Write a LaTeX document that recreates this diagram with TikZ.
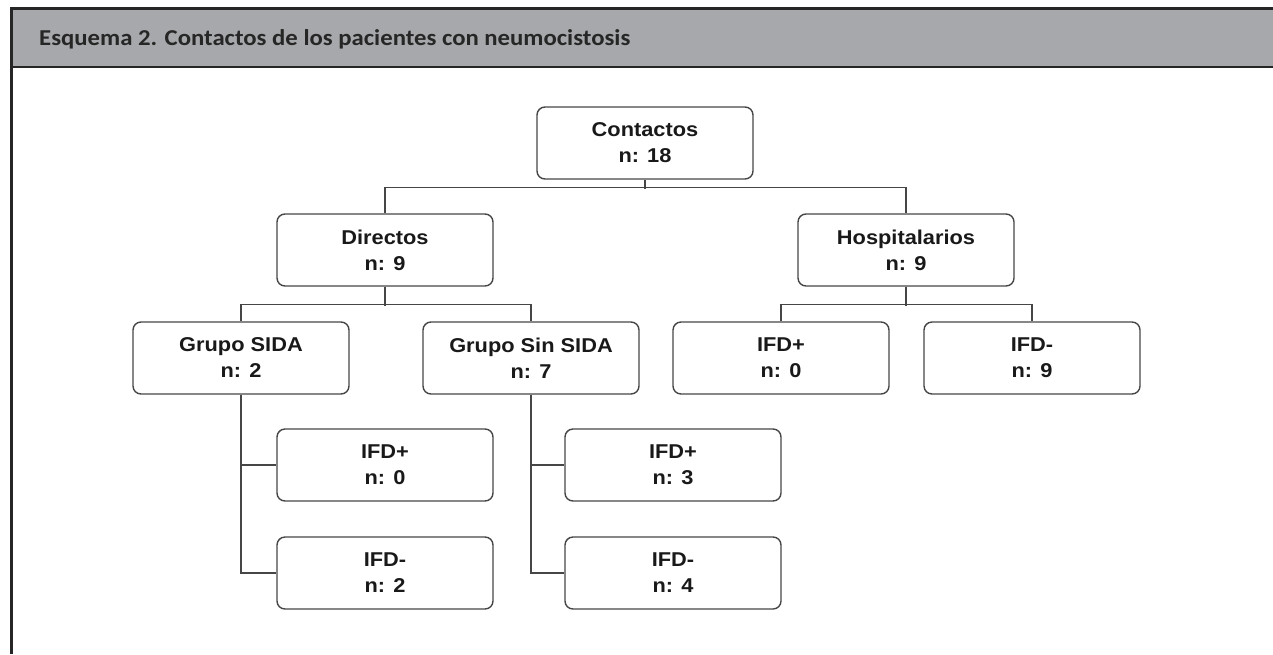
\documentclass[tikz,border=0pt]{standalone}
\usepackage{fontspec}
\setmainfont{Liberation Sans}
\newfontfamily\cajafont[FakeStretch=1.09]{Liberation Sans}
\newfontfamily\titulofont[FakeStretch=1.09]{Carlito}
\usetikzlibrary{positioning}

\definecolor{grisbarra}{RGB}{167,168,171}
\definecolor{borde}{RGB}{38,38,38}
\definecolor{linea}{RGB}{70,70,70}

\tikzset{
  caja/.style={draw=linea, line width=1.4pt, rounded corners=8pt,
    minimum width=216pt, minimum height=72pt, inner sep=0pt, align=center,
    font=\cajafont\bfseries\fontsize{20}{26}\selectfont, text=black!90},
  rama/.style={draw=linea, line width=1.2pt},
}

\begin{document}
\begin{tikzpicture}[x=1pt,y=-1pt]
 \useasboundingbox (0,0) rectangle (1273,654);
 % cabecera
 \fill[grisbarra] (13,10) rectangle (1273,66);
 \draw[borde, line width=3pt] (10,8.5) -- (1273,8.5);
 \draw[borde, line width=2.5pt] (13,67) -- (1273,67);
 \draw[borde, line width=3pt] (11.5,7) -- (11.5,654);
 \node[anchor=west, inner sep=0pt, text=borde,
   font=\titulofont\bfseries\fontsize{22.7}{26}\selectfont] (titulo) at (39,39)
   {Esquema 2. Contactos de los pacientes con neumocistosis};

 % cajas
 \node[caja] (contactos) at (645,143) {Contactos\\n: 18};
 \node[caja] (directos) at (385,250) {Directos\\n: 9};
 \node[caja] (hospital) at (906,250) {Hospitalarios\\n: 9};
 \node[caja] (sida) at (241,358) {Grupo SIDA\\n: 2};
 \node[caja] (sinsida) at (531,358) {Grupo Sin SIDA\\n: 7};
 \node[caja] (hpos) at (781,358) {IFD+\\n: 0};
 \node[caja] (hneg) at (1032,358) {IFD-\\n: 9};
 \node[caja] (spos) at (385,465) {IFD+\\n: 0};
 \node[caja] (sneg) at (385,573) {IFD-\\n: 2};
 \node[caja] (npos) at (673,465) {IFD+\\n: 3};
 \node[caja] (nneg) at (673,573) {IFD-\\n: 4};

 % ramas
 \draw[rama] (contactos.south) -- ++(0,9);
 \draw[rama] (directos.north) -- ++(0,-26) -| (hospital.north);
 \draw[rama] (directos.south) -- ++(0,19);
 \draw[rama] (sida.north) -- ++(0,-17) -| (sinsida.north);
 \draw[rama] (hospital.south) -- ++(0,19);
 \draw[rama] (hpos.north) -- ++(0,-17) -| (hneg.north);
 \draw[rama] (sida.south) |- (sneg.west);
 \draw[rama] (sida.south |- spos.west) -- (spos.west);
 \draw[rama] (sinsida.south) |- (nneg.west);
 \draw[rama] (sinsida.south |- npos.west) -- (npos.west);
\end{tikzpicture}
\end{document}
